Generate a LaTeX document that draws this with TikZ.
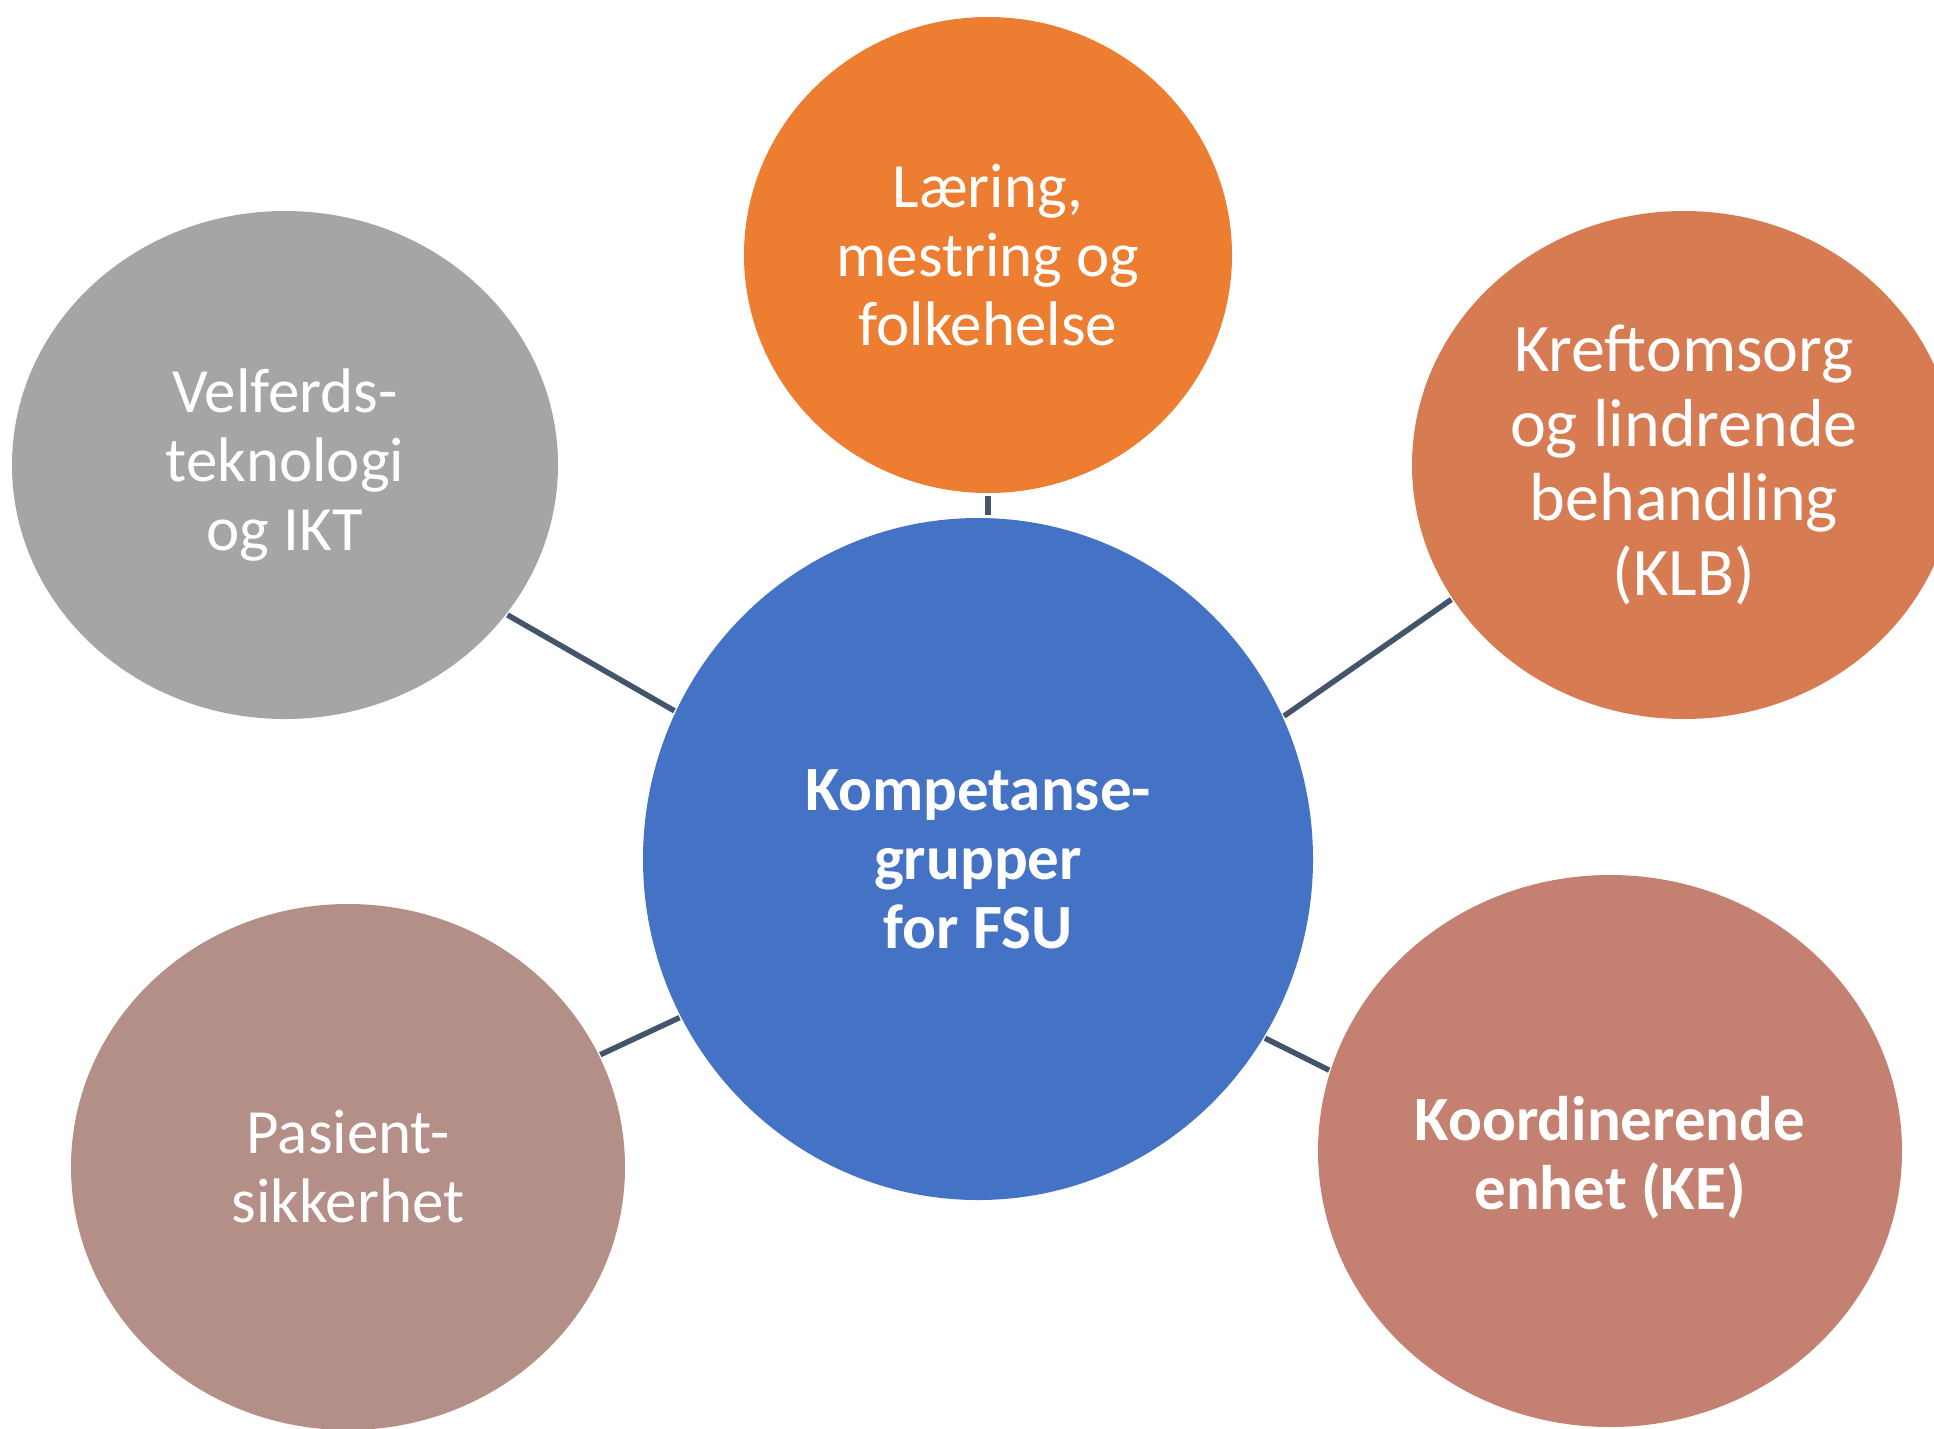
\documentclass[tikz,border=0pt]{standalone}
\usepackage{fontspec}
\setmainfont{Carlito}
\usetikzlibrary{shapes.geometric}
\definecolor{cblue}{HTML}{4472C4}
\definecolor{corange}{HTML}{ED7D31}
\definecolor{cgray}{HTML}{A5A5A5}
\definecolor{ckreft}{HTML}{D77B53}
\definecolor{cpas}{HTML}{B38F88}
\definecolor{ckoord}{HTML}{C48171}
\definecolor{clink}{HTML}{44546A}
\begin{document}
\begin{tikzpicture}[x=1pt,y=-1pt,
  bubble/.style={ellipse, inner sep=0pt, draw=none, fill=#1, text=white, align=center,
    font=\fontsize{63}{69}\selectfont},
  boldbubble/.style={bubble=#1, font=\fontsize{63}{69}\selectfont\bfseries},
  link/.style={draw=clink, line width=5.5pt, shorten <=1.5pt, shorten >=1.5pt}]
\useasboundingbox (0,0) rectangle (1934,1428);
\clip (0,0) rectangle (1934,1428);
\fill[white] (0,0) rectangle (1934,1428);

\node[boldbubble=cblue, minimum width=670pt, minimum height=682pt] (kom) at (978,859)
  {Kompetanse-\\grupper\\for FSU};
\node[bubble=corange, minimum width=488pt, minimum height=476pt] (lae) at (988,255)
  {Læring,\\mestring og\\folkehelse};
\node[bubble=cgray, minimum width=546pt, minimum height=508pt] (vel) at (285,465)
  {Velferds-\\teknologi\\og IKT};
\node[bubble=ckreft, minimum width=544pt, minimum height=508pt,
  font=\fontsize{68}{74.7}\selectfont] (kre) at (1684,465)
  {Kreftomsorg\\og lindrende\\behandling\\(KLB)};
\node[bubble=cpas, minimum width=554pt, minimum height=526pt] (pas) at (348,1167)
  {Pasient-\\sikkerhet};
\node[boldbubble=ckoord, minimum width=584pt, minimum height=552pt] (koo) at (1610,1151)
  {\rule{0pt}{0.9em}Koordinerende\\enhet (KE)};

\draw[link, shorten <=3pt, shorten >=3pt] (lae.south) -- (lae.south |- kom.north);
\draw[link] (vel.-34) -- (kom.154);
\draw[link] (kom.25) -- (kre.210);
\draw[link] (pas.24) -- (kom.208);
\draw[link] (kom.-32) -- (koo.164);
\end{tikzpicture}
\end{document}
